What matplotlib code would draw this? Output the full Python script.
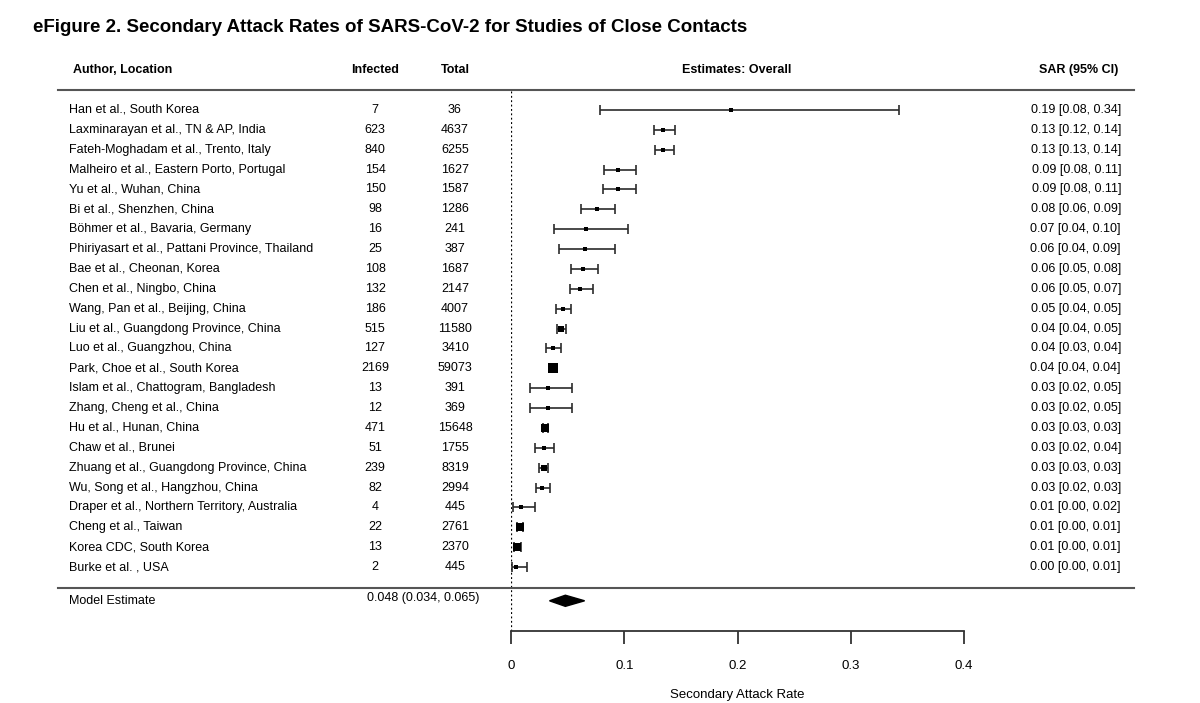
import matplotlib
matplotlib.use('Agg')
import matplotlib.pyplot as plt
from matplotlib.transforms import blended_transform_factory
import numpy as np

plt.rcParams['font.family'] = ['Liberation Sans', 'DejaVu Sans']

# data
authors = [
    'Han et al., South Korea',
    'Laxminarayan et al., TN & AP, India',
    'Fateh-Moghadam et al., Trento, Italy',
    'Malheiro et al., Eastern Porto, Portugal',
    'Yu et al., Wuhan, China',
    'Bi et al., Shenzhen, China',
    'Böhmer et al., Bavaria, Germany',
    'Phiriyasart et al., Pattani Province, Thailand',
    'Bae et al., Cheonan, Korea',
    'Chen et al., Ningbo, China',
    'Wang, Pan et al., Beijing, China',
    'Liu et al., Guangdong Province, China',
    'Luo et al., Guangzhou, China',
    'Park, Choe et al., South Korea',
    'Islam et al., Chattogram, Bangladesh',
    'Zhang, Cheng et al., China',
    'Hu et al., Hunan, China',
    'Chaw et al., Brunei',
    'Zhuang et al., Guangdong Province, China',
    'Wu, Song et al., Hangzhou, China',
    'Draper et al., Northern Territory, Australia',
    'Cheng et al., Taiwan',
    'Korea CDC, South Korea',
    'Burke et al. , USA',
]
infected = [7, 623, 840, 154, 150, 98, 16, 25, 108, 132, 186, 515, 127, 2169,
            13, 12, 471, 51, 239, 82, 4, 22, 13, 2]
total = [36, 4637, 6255, 1627, 1587, 1286, 241, 387, 1687, 2147, 4007, 11580,
         3410, 59073, 391, 369, 15648, 1755, 8319, 2994, 445, 2761, 2370, 445]
sar_est = [0.194, 0.134, 0.134, 0.0947, 0.0945, 0.076, 0.066, 0.065, 0.064,
           0.061, 0.046, 0.0445, 0.037, 0.0367, 0.033, 0.0325, 0.030, 0.029,
           0.0287, 0.027, 0.009, 0.008, 0.0055, 0.0045]
ci_lo = [0.079, 0.126, 0.127, 0.082, 0.081, 0.062, 0.038, 0.042, 0.053, 0.052,
         0.040, 0.041, 0.031, 0.035, 0.017, 0.017, 0.028, 0.021, 0.025, 0.022,
         0.002, 0.005, 0.003, 0.001]
ci_hi = [0.343, 0.145, 0.144, 0.110, 0.110, 0.092, 0.103, 0.092, 0.077, 0.072,
         0.053, 0.049, 0.044, 0.0385, 0.054, 0.054, 0.033, 0.038, 0.033, 0.034,
         0.021, 0.011, 0.009, 0.014]
sar_text = [
    '0.19 [0.08, 0.34]', '0.13 [0.12, 0.14]', '0.13 [0.13, 0.14]',
    '0.09 [0.08, 0.11]', '0.09 [0.08, 0.11]', '0.08 [0.06, 0.09]',
    '0.07 [0.04, 0.10]', '0.06 [0.04, 0.09]', '0.06 [0.05, 0.08]',
    '0.06 [0.05, 0.07]', '0.05 [0.04, 0.05]', '0.04 [0.04, 0.05]',
    '0.04 [0.03, 0.04]', '0.04 [0.04, 0.04]', '0.03 [0.02, 0.05]',
    '0.03 [0.02, 0.05]', '0.03 [0.03, 0.03]', '0.03 [0.02, 0.04]',
    '0.03 [0.03, 0.03]', '0.03 [0.02, 0.03]', '0.01 [0.00, 0.02]',
    '0.01 [0.00, 0.01]', '0.01 [0.00, 0.01]', '0.00 [0.00, 0.01]',
]
model_est, model_lo, model_hi = 0.048, 0.034, 0.065
model_text = '0.048 (0.034, 0.065)'
xticks = [0, 0.1, 0.2, 0.3, 0.4]
xtick_labels = ['0', '0.1', '0.2', '0.3', '0.4']

W, H = 1200, 703
fig = plt.figure(figsize=(W / 100, H / 100), dpi=100)

# forest panel: x 0..0.4, rows 0..23 top to bottom
ax = fig.add_axes([511 / W, (H - 631) / H, 453 / W, (631 - 90) / H])
ax.set_xlim(0, 0.4)
ax.set_ylim(26.22, -1.0)
for s in ['top', 'right', 'left']:
    ax.spines[s].set_visible(False)
ax.spines['bottom'].set_color('#333333')
ax.spines['bottom'].set_linewidth(1.3)
ax.set_yticks([])
ax.set_xticks(xticks)
ax.set_xticklabels(xtick_labels)
ax.tick_params(axis='x', direction='out', length=9, width=1.3, pad=12,
               labelsize=9.5, color='#333333')

tr = blended_transform_factory(fig.transFigure, ax.transData)

rows = np.arange(len(authors))
ax.axvline(0, ymin=0, ymax=1, color='black', ls=(0, (1.5, 2)), lw=0.9)

# confidence intervals and squares
ax.errorbar(sar_est, rows,
            xerr=[np.array(sar_est) - np.array(ci_lo), np.array(ci_hi) - np.array(sar_est)],
            fmt='none', ecolor='#2b2b2b', elinewidth=1.2, capsize=3.6, capthick=1.2)
widths = np.array(ci_hi) - np.array(ci_lo)
side_px = np.clip(2.5 + 0.026 / widths, 3.0, 9.5)
for x, y, s in zip(sar_est, rows, side_px):
    ax.plot(x, y, marker='s', ms=s * 0.75, color='black', mec='black', mew=0)

# summary diamond
my = 24.7
ax.fill([model_lo, model_est, model_hi, model_est],
        [my, my - 0.28, my, my + 0.28], color='black', clip_on=False)

# text columns
fs = 9
for i in rows:
    ax.text(69 / W, i, authors[i], transform=tr, ha='left', va='center', fontsize=fs)
    ax.text(375 / W, i, str(infected[i]), transform=tr, ha='center', va='center', fontsize=fs)
    ax.text(455 / W, i, str(total[i]), transform=tr, ha='center', va='center', fontsize=fs)
    ax.text(1121 / W, i, sar_text[i], transform=tr, ha='right', va='center', fontsize=fs)

ax.text(69 / W, my, 'Model Estimate', transform=tr, ha='left', va='center', fontsize=fs)
ax.text(423 / W, my - 0.12, model_text, transform=tr, ha='center', va='center', fontsize=fs)

hy = -2.0
hdr = dict(transform=tr, va='center', fontsize=fs, fontweight='bold')
ax.text(73 / W, hy, 'Author, Location', ha='left', **hdr)
ax.text(375 / W, hy, 'Infected', ha='center', **hdr)
ax.text(455 / W, hy, 'Total', ha='center', **hdr)
ax.text(737 / W, hy, 'Estimates: Overall', ha='center', **hdr)
ax.text(1118 / W, hy, 'SAR (95% CI)', ha='right', **hdr)

# separator lines
for ly in [-1.0, 24.05]:
    ax.plot([58 / W, 1134 / W], [ly, ly], transform=tr, color='#555555', lw=1.5,
            clip_on=False)

fig.text(33 / W, 1 - 28 / H,
         'eFigure 2. Secondary Attack Rates of SARS-CoV-2 for Studies of Close Contacts',
         ha='left', va='center', fontsize=13.5, fontweight='bold')
fig.text(737 / W, 1 - 695 / H, 'Secondary Attack Rate', ha='center', va='center',
         fontsize=9.5)

fig.savefig('out.png', dpi=100)
